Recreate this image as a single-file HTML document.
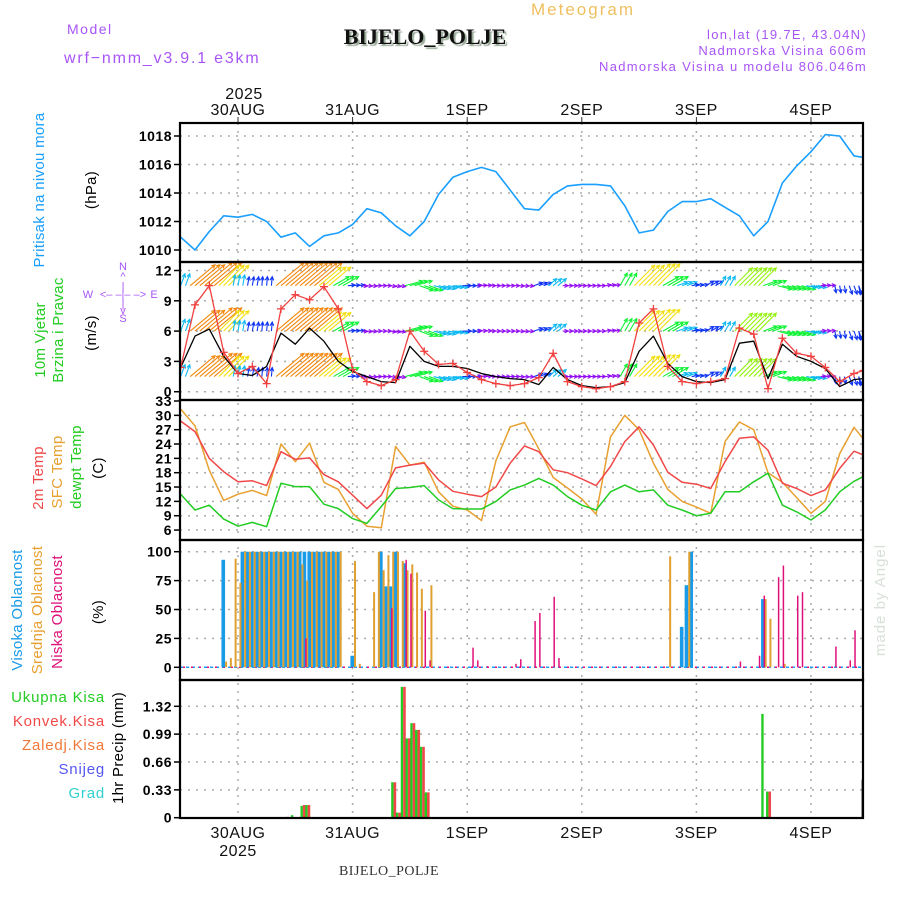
<!DOCTYPE html>
<html><head><meta charset="utf-8"><style>
html,body{margin:0;padding:0;background:#fff;}
svg{display:block;font-family:"Liberation Sans",sans-serif;}
</style></head><body>
<svg id="chart" width="900" height="900" viewBox="0 0 900 900"></svg>
<script>
// ---------- DATA ----------
const hours = [-12,-9,-6,-3,0,3,6,9,12,15,18,21,24,27,30,33,36,39,42,45,48,51,54,57,60,63,66,69,72,75,78,81,84,87,90,93,96,99,102,105,108,111,114,117,120,123,126,129,131];
const pressure = [1010.9,1010.0,1011.3,1012.4,1012.3,1012.5,1012.0,1010.9,1011.2,1010.25,1011.0,1011.2,1011.8,1012.9,1012.6,1011.7,1011.0,1012.0,1013.9,1015.1,1015.5,1015.8,1015.5,1014.2,1012.9,1012.8,1013.9,1014.5,1014.6,1014.6,1014.5,1013.1,1011.2,1011.4,1012.7,1013.4,1013.4,1013.6,1013.0,1012.4,1011.0,1012.0,1014.7,1015.9,1016.9,1018.1,1018.0,1016.6,1016.5];
const windSpeed = [2.4,5.5,6.2,3.5,1.8,1.6,2.5,5.8,4.7,6.3,5.0,3.0,2.0,1.5,1.0,0.9,4.5,3.0,2.5,2.5,2.3,1.8,1.5,1.3,1.2,0.7,2.4,1.2,0.6,0.4,0.5,0.9,4.0,5.5,2.8,1.5,1.0,0.9,1.2,4.8,5.0,1.3,4.7,3.5,3.0,2.3,0.5,1.2,1.3];
const windGust = [2.4,8.6,10.5,3.9,1.8,2.5,0.8,8.2,9.6,9.1,10.4,8.2,2.2,1.0,0.6,1.2,6.0,4.0,2.7,2.8,1.9,1.2,0.8,0.6,0.8,1.4,3.8,1.0,0.5,0.3,0.5,1.0,6.8,8.2,2.5,1.0,0.8,1.0,1.3,6.3,5.7,0.3,5.3,3.8,3.5,2.4,1.0,1.8,2.1];
const arrowDir = [70,40,40,45,80,80,85,40,40,40,40,30,5,-5,0,-10,15,-20,-15,-10,0,5,0,0,-5,20,40,0,0,0,10,60,45,45,30,20,10,30,60,45,45,20,-15,-15,-10,5,-80,-70,-80];
const arrowSpeed = [3.5,9,10,8,3,2.5,2.5,10,10,10,8,5,2,1.5,1.5,1.5,5,4,3.5,3,2.5,1.5,1.3,1.3,1.3,2.5,3,1.5,1.3,1.3,1.5,4,8,8.5,5,3,2,2.5,3,7,7,4,4,4,3,1.5,2,2.5,2.5];
const temp2m = [28.8,26.6,21.0,18.2,16.1,16.3,15.3,22.4,20.8,21.1,17.6,16.1,13.3,10.5,13.3,19.0,19.6,20.0,16.5,14.1,13.5,13.0,15.0,20.0,23.6,22.4,18.6,18.0,16.7,15.3,19.3,24.5,27.6,23.8,18.1,16.0,15.6,14.7,20.3,25.2,25.5,22.7,15.8,14.7,13.2,14.4,18.9,22.5,21.7];
const tempSfc = [31.3,27.8,18.5,12.2,13.5,14.3,13.2,24.0,20.3,24.2,16.0,14.5,9.5,6.8,6.5,23.5,19.6,20.2,14.0,11.0,10.2,8.0,20.5,27.6,28.5,23.0,17.0,14.8,12.5,9.3,25.5,30.0,27.0,20.0,14.5,12.0,10.8,9.5,24.5,28.6,27.0,18.0,16.0,12.8,9.5,12.0,22.0,27.5,25.0];
const tempDew = [13.5,10.2,11.2,8.3,6.8,7.6,6.7,15.8,15.1,15.1,11.4,10.5,8.4,7.4,10.9,14.7,14.9,15.3,12.3,10.5,10.4,10.4,12.0,14.4,15.4,16.8,15.4,13.0,11.2,10.2,14.0,15.4,14.0,14.4,11.2,10.2,9.0,9.5,14.0,14.0,16.1,17.9,11.2,9.8,8.1,10.2,14.0,16.2,17.2];
const highHours = [-3,1,2,3,4,5,6,7,8,9,10,11,12,13,14,15,16,17,18,19,20,21,24,30,31,32,33,35,93,94,95,110];
const highVals  = [93,100,100,100,100,100,100,100,100,100,100,100,100,100,100,100,100,100,100,100,100,100,10,100,70,70,100,90,35,71,100,59];
const midHours = [-3,-2,-1,0,1,2,3,4,5,6,7,8,9,10,11,12,13,14,15,16,17,18,19,20,21,24,25,28,29,30,31,32,33,34,35,36,37,38,40,90,94,110,111,114];
const midVals  = [5,8,94,73,100,100,100,100,100,100,100,100,100,100,100,100,89,75,100,100,100,100,100,100,100,92,3,65,100,84,97,100,100,92,84,89,82,68,71,96,100,59,42,3];
const lowHours = [14,32,35,36,39,40,49,50,52,58,59,62,63,66,67,105,109,110,113,114,117,118,125,128,129];
const lowVals  = [25,51,93,81,49,6,17,6,1,3,7,40,47,61,8,5,10,62,78,88,62,65,18,6,32];
const precipHours = [10.5,11.5,13.5,14.5,32.5,33.5,34.5,35.5,36.5,37.5,38.5,39.5,110,111];
const precipTotal = [0.01,0.03,0.14,0.15,0.42,0.06,1.55,0.94,1.12,1.04,0.84,0.30,1.23,0.31];
const precipConv  = [0,0,0.15,0.15,0.42,0.06,1.55,0.94,1.12,1.04,0.84,0.30,0,0.31];
const otherHours = [130.8];
const otherVals = [0.45];
const dayLabels = ["30AUG","31AUG","1SEP","2SEP","3SEP","4SEP"];
const dayHours = [0,24,48,72,96,120];
const pTicks = [1010,1012,1014,1016,1018];
const wTicks = [0,3,6,9,12];
const tTicks = [6,9,12,15,18,21,24,27,30,33];
const cTicks = [0,25,50,75,100];
const rTicks = [0,0.33,0.66,0.99,1.32];
const rTickLabels = ["0","0.33","0.66","0.99","1.32"];

// ---------- SCALES ----------
const X0=180, X1=863;
function xOf(h){return 238 + h*4.775;}
function yP(v){return 250-(v-1010)*14.25;}
function yW(v){return 391.7-v*10.1;}
function yT(v){return 401+(33-v)*4.78;}
function yC(v){return 667.3-v*1.156;}
function yR(v){return 817.7-v*84.4;}
const panels=[[123,262],[262,400],[400,540],[540,680],[680,818]];

const NS="http://www.w3.org/2000/svg";
const svg=document.getElementById('chart');
function mk(tag,attrs,parent){const e=document.createElementNS(NS,tag);for(const k in attrs)e.setAttribute(k,attrs[k]);(parent||svg).appendChild(e);return e;}
function txt(s,x,y,size,fill,anchor,extra){const e=mk('text',Object.assign({x:x,y:y,'font-size':size,fill:fill,'text-anchor':anchor||'start'},extra||{}));e.textContent=s;return e;}

// clip paths
const defs=mk('defs',{});
panels.forEach((p,i)=>{const c=mk('clipPath',{id:'clip'+i},defs);mk('rect',{x:X0,y:p[0],width:X1-X0,height:p[1]-p[0]},c);});

// ---------- HEADER ----------
let t;
t=txt("Model",67,34,14,"#a855f7","start",{'letter-spacing':'1.5'});


t=txt("wrf\u2212nmm_v3.9.1  e3km",64,63,16,"#a855f7","start",{'letter-spacing':'1.8'});


t=txt("BIJELO_POLJE",425,44,22,"#111","middle",{'font-family':'"Liberation Serif",serif','font-weight':'bold',style:'text-shadow:2px 2px 1px #9a9'});


t=txt("Meteogram",583,15,17,"#f0c060","middle",{'letter-spacing':'2'});


t=txt("lon,lat (19.7E, 43.04N)",867,39,13,"#a855f7","end",{'letter-spacing':'1.3'});


t=txt("Nadmorska Visina 606m",867,55,13,"#a855f7","end",{'letter-spacing':'1.3'});


t=txt("Nadmorska Visina u modelu 806.046m",867,71,13,"#a855f7","end",{'letter-spacing':'1.3'});



// ---------- GRID ----------
const grid=mk('g',{stroke:'#aaa','stroke-width':1.5,'stroke-dasharray':'2,6',fill:'none'});


dayHours.forEach(h=>{mk('line',{x1:xOf(h),x2:xOf(h),y1:123,y2:818},grid);});
function hgrid(ticks,yf){ticks.forEach(v=>{mk('line',{x1:X0,x2:X1,y1:yf(v),y2:yf(v)},grid);});}
hgrid(pTicks,yP);hgrid(wTicks,yW);hgrid(tTicks.filter(v=>v<33),yT);hgrid(cTicks.filter(v=>v>0),yC);hgrid(rTicks.filter(v=>v>0),yR);
// day tick marks on top
dayHours.forEach(h=>{mk('line',{x1:xOf(h),x2:xOf(h),y1:117,y2:123,stroke:'#333','stroke-width':1});});

// ---------- Y TICK LABELS ----------
function yLabels(ticks,labels,yf,name){const g=mk('g',{});
  ticks.forEach((v,i)=>{const yy=yf(v);mk('line',{x1:X0-6,x2:X0,y1:yy,y2:yy,stroke:'#000','stroke-width':1.5},g);
  const e=txt(labels[i],X0-8,yy+5,14,"#000","end",{'font-weight':'bold','letter-spacing':'0.5'});g.appendChild(e);});}
yLabels(pTicks,pTicks.map(String),yP,'pressure-y-axis');
yLabels(wTicks,wTicks.map(String),yW,'wind-y-axis');
yLabels(tTicks,tTicks.map(String),yT,'temp-y-axis');
yLabels(cTicks,cTicks.map(String),yC,'cloud-y-axis');
yLabels(rTicks,rTickLabels,yR,'precip-y-axis');

// ---------- PRESSURE ----------
function polyline(hs,vs,yf,color,clip,name,w){const pts=hs.map((h,i)=>xOf(h).toFixed(1)+','+yf(vs[i]).toFixed(1)).join(' ');
  const e=mk('polyline',{points:pts,fill:'none',stroke:color,'stroke-width':w||1.5,'clip-path':'url(#clip'+clip+')','stroke-linejoin':'round'});
  return e;}
polyline(hours,pressure,yP,'#1a9fff',0,'pressure-line',1.6);

// ---------- WIND ----------
function windColor(s){let hue;if(s<=1.5)hue=275;else if(s<=2.5)hue=230;else if(s<=3.5)hue=195;else if(s<=5)hue=130;else if(s<=7)hue=85;else if(s<=8.5)hue=55;else hue=32;return 'hsl('+hue+',90%,50%)';}
const arrows=mk('g',{'clip-path':'url(#clip1)','stroke-width':1.1,fill:'none'});


const rowBase=[10.5,6.0,1.5];
rowBase.forEach(b=>{
  hours.forEach((h,i)=>{[-1,0,1].forEach(off=>{
    const x=xOf(h+off), y=yW(b), L=arrowSpeed[i]*3.6, a=arrowDir[i]*Math.PI/180;
    const x2=x+L*Math.cos(a), y2=y-L*Math.sin(a); const col=windColor(arrowSpeed[i]);
    const g=mk('g',{stroke:col},arrows);
    mk('line',{x1:x,y1:y,x2:x2,y2:y2},g);
    const ah=4, a1=a+Math.PI*0.85, a2=a-Math.PI*0.85;
    mk('polyline',{points:(x2+ah*Math.cos(a1))+','+(y2-ah*Math.sin(a1))+' '+x2+','+y2+' '+(x2+ah*Math.cos(a2))+','+(y2-ah*Math.sin(a2))},g);
  });});
});
polyline(hours,windSpeed,yW,'#000',1,'wind-speed-line',1.3);
polyline(hours,windGust,yW,'#f04040',1,'wind-gust-line',1.3);
const gm=mk('g',{stroke:'#f04040','stroke-width':1.3,'clip-path':'url(#clip1)'});


hours.forEach((h,i)=>{const x=xOf(h),y=yW(windGust[i]);mk('line',{x1:x-4,x2:x+4,y1:y,y2:y},gm);mk('line',{x1:x,x2:x,y1:y-4,y2:y+4},gm);});

// ---------- TEMPERATURE ----------
polyline(hours,tempSfc,yT,'#e8a030',2,'sfc-temp-line',1.5);
polyline(hours,temp2m,yT,'#f04848',2,'temp-2m-line',1.5);
polyline(hours,tempDew,yT,'#22cc22',2,'dewpoint-line',1.5);

// ---------- CLOUDS ----------
const cb=mk('g',{'clip-path':'url(#clip3)'});


mk('line',{x1:X0,x2:X1,y1:yC(0),y2:yC(0),stroke:'#1a9fff','stroke-width':1.5,'stroke-dasharray':'3,3'},cb);
mk('line',{x1:X0+3,x2:X1,y1:yC(0),y2:yC(0),stroke:'#e0107a','stroke-width':1.5,'stroke-dasharray':'2,6'},cb);
highHours.forEach((h,i)=>{const e=mk('rect',{x:xOf(h)-2.2,y:yC(highVals[i]),width:3.6,height:yC(0)-yC(highVals[i]),fill:'#1a9be8'},cb);
  });
midHours.forEach((h,i)=>{const e=mk('rect',{x:xOf(h)+1.4,y:yC(midVals[i]),width:2,height:yC(0)-yC(midVals[i]),fill:'#e0a030'},cb);
  });
lowHours.forEach((h,i)=>{const e=mk('rect',{x:xOf(h)+0.3,y:yC(lowVals[i]),width:1.5,height:yC(0)-yC(lowVals[i]),fill:'#e0107a'},cb);
  });

// ---------- PRECIP ----------
const pb=mk('g',{'clip-path':'url(#clip4)'});


precipHours.forEach((h,i)=>{
  if(precipTotal[i]>0){const e=mk('rect',{x:xOf(h)-2,y:yR(precipTotal[i]),width:2.4,height:yR(0)-yR(precipTotal[i]),fill:'#22cc22'},pb);
    }
  if(precipConv[i]>0){const e=mk('rect',{x:xOf(h)+0.4,y:yR(precipConv[i]),width:2.6,height:yR(0)-yR(precipConv[i]),fill:'#f04848'},pb);
    }
});
otherHours.forEach((h,i)=>{const e=mk('rect',{x:xOf(h)-1,y:yR(otherVals[i]),width:1.5,height:yR(0)-yR(otherVals[i]),fill:'#222'},pb);
  });
mk('line',{x1:X0,x2:X1,y1:yR(0),y2:yR(0),stroke:'#000','stroke-width':1.5,'stroke-dasharray':'5,3'});

// ---------- FRAMES ----------
panels.forEach((p,i)=>{const e=mk('rect',{x:X0,y:p[0],width:X1-X0,height:p[1]-p[0],fill:'none',stroke:'#000','stroke-width':2.2});
  });

// ---------- X LABELS ----------
dayHours.forEach((h,i)=>{let e=txt(dayLabels[i],xOf(h),115,16,"#111","middle",{'letter-spacing':'0.5'});
  
  e=txt(dayLabels[i],xOf(h),838,16,"#111","middle",{'letter-spacing':'0.5'});
  });
t=txt("2025",xOf(0)+6,99,16,"#111","middle",{'letter-spacing':'0.5'});


t=txt("2025",xOf(0),856,16,"#111","middle",{'letter-spacing':'0.5'});


t=txt("BIJELO_POLJE",389,875,14,"#333","middle",{'font-family':'"Liberation Serif",serif','letter-spacing':'0.5'});



// ---------- SIDE LABELS ----------
function vtxt(s,x,y,size,fill,name){const e=txt(s,x,y,size,fill,"middle",{transform:'rotate(-90 '+x+' '+y+')','letter-spacing':'0.3'});
  return e;}
vtxt("Pritisak na nivou mora",44,190,15,"#1a9fff",'pressure-title');
vtxt("(hPa)",96,190,15,"#000",'pressure-unit');
vtxt("10m Vjetar",45,340,15,"#22cc22",'wind-title');
vtxt("Brzina i Pravac",63,330,15,"#22cc22",'wind-subtitle');
vtxt("(m/s)",96,333,15,"#000",'wind-unit');
vtxt("2m Temp",43,478,15,"#f04848",'temp-2m-label');
vtxt("SFC Temp",62,472,15,"#e8a030",'sfc-temp-label');
vtxt("dewpt Temp",81,467,15,"#22cc22",'dewpoint-label');
vtxt("(C)",103,468,15,"#000",'temp-unit');
vtxt("Visoka Oblacnost",22,610,15,"#1a9be8",'high-cloud-label');
vtxt("Srednja Oblacnost",42,610,15,"#e8a030",'mid-cloud-label');
vtxt("Niska Oblacnost",62,612,15,"#e0107a",'low-cloud-label');
vtxt("(%)",103,612,15,"#000",'cloud-unit');
vtxt("1hr Precip (mm)",123,748,15,"#000",'precip-unit');
const mb=txt("made by Angel",885,600,15,"#d8e0d8","middle",{transform:'rotate(-90 885 600)','letter-spacing':'1'});


const legendNames=["Ukupna Kisa","Konvek.Kisa","Zaledj.Kisa","Snijeg","Grad"];
const legendColors=["#22cc22","#f04848","#f07838","#5555f0","#30d0d0"];
legendNames.forEach((n,i)=>{const e=txt(n,105,702+i*24,15,legendColors[i],"end",{'letter-spacing':'0.8'});
  });
// compass
const cp=mk('g',{fill:'#a855f7','font-size':11});


[["N",123,270],["^",123,280],["|",123,290],["W",88,298],["<\u2013 \u2013|\u2013 \u2013>",123,298],["E",154,298],["|",123,307],["v",123,314],["S",123,322]].forEach(a=>{const e=txt(a[0],a[1],a[2],11,'#a855f7','middle');cp.appendChild(e);});
</script>
</body></html>
